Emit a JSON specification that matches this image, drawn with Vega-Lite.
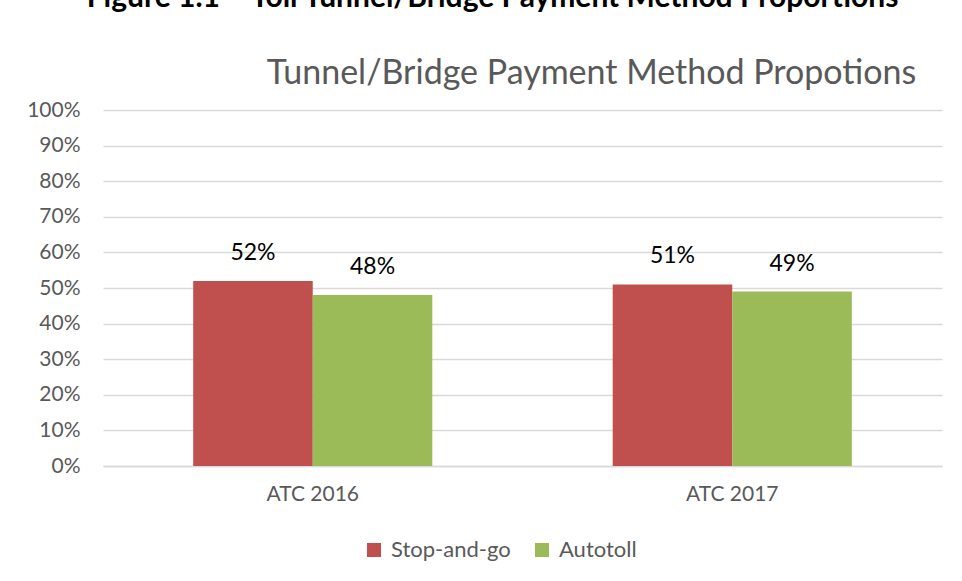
{
  "$schema": "https://vega.github.io/schema/vega-lite/v6.json",
  "autosize": {"type": "none"},
  "width": 839,
  "height": 356,
  "padding": {"left": 103, "top": 110, "right": 20, "bottom": 115},
  "background": "white",
  "config": {
    "font": "Lato",
    "view": {"stroke": null}
  },
  "title": {
    "text": "Figure 1.1 – Toll Tunnel/Bridge Payment Method Proportions",
    "frame": "group",
    "anchor": "middle",
    "dx": -30,
    "offset": 43,
    "fontSize": 30,
    "fontWeight": "bold",
    "color": "#000000",
    "font": "Lato"
  },
  "data": {
    "values": [
      {"survey": "ATC 2016", "method": "Stop-and-go", "share": 0.52},
      {"survey": "ATC 2016", "method": "Autotoll", "share": 0.48},
      {"survey": "ATC 2017", "method": "Stop-and-go", "share": 0.51},
      {"survey": "ATC 2017", "method": "Autotoll", "share": 0.49}
    ]
  },
  "encoding": {
    "x": {
      "field": "survey",
      "type": "nominal",
      "scale": {"paddingInner": 0.43, "paddingOuter": 0.215}
    },
    "xOffset": {"field": "method", "type": "nominal", "sort": ["Stop-and-go", "Autotoll"], "scale": {"paddingInner": 0, "paddingOuter": 0}},
    "y": {
      "field": "share",
      "type": "quantitative",
      "scale": {"domain": [0, 1]},
      "axis": {
        "title": null,
        "format": ".0%",
        "values": [0, 0.1, 0.2, 0.3, 0.4, 0.5, 0.6, 0.7, 0.8, 0.9, 1],
        "labelFontSize": 21,
        "labelColor": "#595959",
        "labelPadding": 23,
        "ticks": false,
        "domain": false,
        "grid": true,
        "gridColor": "#D9D9D9",
        "gridWidth": 1.5
      }
    }
  },
  "layer": [
    {
      "mark": {"type": "bar"},
      "encoding": {
        "x": {
          "field": "survey",
          "type": "nominal",
          "scale": {"paddingInner": 0.43, "paddingOuter": 0.215},
          "axis": {
            "title": null,
            "labelAngle": 0,
            "labelFontSize": 21,
            "labelColor": "#595959",
            "labelPadding": 17,
            "ticks": false,
            "domainColor": "#D9D9D9",
            "domainWidth": 1.5
          }
        },
        "color": {
          "field": "method",
          "type": "nominal",
          "sort": ["Stop-and-go", "Autotoll"],
          "scale": {"domain": ["Stop-and-go", "Autotoll"], "range": ["#C0504D", "#9BBB59"]},
          "legend": {
            "title": null,
            "orient": "none",
            "direction": "horizontal",
            "legendX": 260,
            "legendY": 429,
            "symbolType": "square",
            "symbolSize": 196,
            "symbolStrokeWidth": 0,
            "symbolOpacity": 1,
            "labelFontSize": 22,
            "labelColor": "#595959",
            "labelOffset": 6,
            "columnPadding": 20
          }
        }
      }
    },
    {
      "mark": {"type": "text", "baseline": "bottom", "dy": -16, "fontSize": 23, "color": "#000000"},
      "encoding": {
        "x": {
          "field": "survey",
          "type": "nominal",
          "scale": {"paddingInner": 0.43, "paddingOuter": 0.215},
          "axis": {
            "orient": "top",
            "title": "Tunnel/Bridge Payment Method Propotions",
            "titleFontSize": 34,
            "titleFontWeight": "normal",
            "titleColor": "#595959",
            "titleFont": "Lato",
            "titleX": 488,
            "titleY": -27,
            "titleAlign": "center",
            "titleBaseline": "alphabetic",
            "labels": false,
            "ticks": false,
            "domain": false
          }
        },
        "text": {"field": "share", "type": "quantitative", "format": ".0%"}
      }
    }
  ],
  "resolve": {"axis": {"x": "independent"}}
}
